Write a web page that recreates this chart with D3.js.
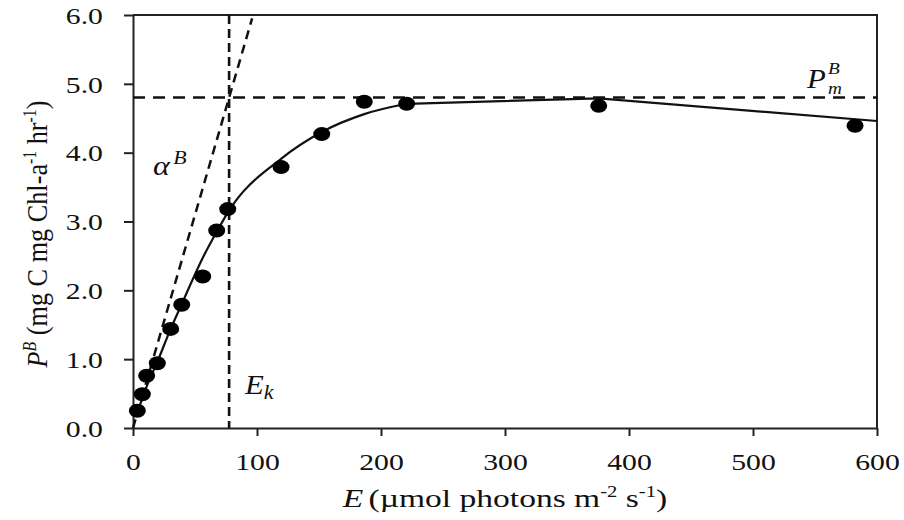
<!DOCTYPE html>
<html>
<head>
<meta charset="utf-8">
<script src="https://cdn.jsdelivr.net/npm/d3@7"></script>
<style>
  html, body { margin: 0; padding: 0; background: #fff; }
  svg { display: block; font-family: "Liberation Serif", "Times New Roman", serif; }
</style>
</head>
<body>
<svg id="chart" width="904" height="520"></svg>
<script>
// Measured photosynthesis–irradiance points
const irradiance = [3.5, 7.5, 11.0, 19.6, 30.4, 39.3, 56.2, 67.5, 76.4, 119.4, 152.2, 186.5, 220.7, 375.6, 582.3];
const production = [0.25, 0.49, 0.76, 0.94, 1.44, 1.79, 2.20, 2.87, 3.18, 3.79, 4.27, 4.74, 4.71, 4.68, 4.39];

// Fitted P–E curve: smooth rising part, then straight segments at high light
const fitIrradiance = [3.5, 7.5, 11.0, 19.6, 30.4, 39.3, 56.2, 67.5, 76.4, 119.4, 152.2, 186.5, 220.7];
const fitProduction = [0.22, 0.43, 0.60, 0.96, 1.44, 1.80, 2.47, 2.85, 3.13, 3.91, 4.30, 4.56, 4.71];
const tailIrradiance = [220.7, 375.6, 600];
const tailProduction = [4.71, 4.79, 4.46];

// Photosynthetic parameters shown as reference lines
const maxRate = 4.8;          // P_m^B
const saturationLight = 77.5; // E_k
const slopeLineTop = 5.95;    // where the initial-slope line stops

const xTicks = [0, 100, 200, 300, 400, 500, 600];
const yTicks = [0, 1, 2, 3, 4, 5, 6];

const svg = d3.select("#chart");
const plot = { left: 133, right: 877, top: 15, bottom: 428 };
const ink = "#111";
const axisInk = "#222";
const SX = 1.24; // horizontal glyph stretch of the typeset text

const x = d3.scaleLinear().domain([0, 600]).range([plot.left, plot.right]);
const y = d3.scaleLinear().domain([0, 6]).range([plot.bottom, plot.top]);

// ---- frame and axes ----
const xAxis = svg.append("g")
  .attr("transform", `translate(0,${plot.bottom})`)
  .call(d3.axisBottom(x).tickValues(xTicks).tickSize(8).tickSizeOuter(0).tickFormat(d3.format("d")));
const yAxis = svg.append("g")
  .attr("transform", `translate(${plot.left},0)`)
  .call(d3.axisLeft(y).tickValues(yTicks).tickSize(9).tickSizeOuter(0).tickFormat(d3.format(".1f")));

[xAxis, yAxis].forEach(a => {
  a.select(".domain").attr("stroke", axisInk).attr("stroke-width", 2);
  a.selectAll(".tick line").attr("stroke", axisInk).attr("stroke-width", 2);
  a.selectAll(".tick text")
    .attr("fill", ink)
    .attr("font-size", 24)
    .attr("font-family", "Liberation Serif, serif");
});
xAxis.selectAll(".tick text")
  .attr("y", 42).attr("dy", 0)
  .attr("transform", `scale(${SX},1)`);
yAxis.selectAll(".tick text")
  .attr("x", -30 / SX).attr("dy", "0.34em")
  .attr("transform", `scale(${SX},1)`);

// top and right border
svg.append("path")
  .attr("d", d3.line()([[x(0), y(6)], [x(600), y(6)], [x(600), y(0)]]))
  .attr("fill", "none").attr("stroke", axisInk).attr("stroke-width", 2);

// ---- reference lines ----
svg.append("line")
  .attr("x1", x(0)).attr("x2", x(600))
  .attr("y1", y(maxRate)).attr("y2", y(maxRate))
  .attr("stroke", ink).attr("stroke-width", 2.5).attr("stroke-dasharray", "12 8");

svg.append("line")
  .attr("x1", x(saturationLight)).attr("x2", x(saturationLight))
  .attr("y1", y(6)).attr("y2", y(0))
  .attr("stroke", ink).attr("stroke-width", 2.6).attr("stroke-dasharray", "9 5");

svg.append("line")
  .attr("x1", x(0)).attr("y1", y(0))
  .attr("x2", x(slopeLineTop * saturationLight / maxRate)).attr("y2", y(slopeLineTop))
  .attr("stroke", ink).attr("stroke-width", 2.5).attr("stroke-dasharray", "9 6");

// ---- fitted curve ----
const fitPts = fitIrradiance.map((e, i) => [x(e), y(fitProduction[i])]);
svg.append("path")
  .attr("d", d3.line().curve(d3.curveMonotoneX)(fitPts))
  .attr("fill", "none").attr("stroke", ink).attr("stroke-width", 2.2);
const tailPts = tailIrradiance.map((e, i) => [x(e), y(tailProduction[i])]);
svg.append("path")
  .attr("d", d3.line()(tailPts))
  .attr("fill", "none").attr("stroke", ink).attr("stroke-width", 2.2);

// ---- measured points ----
svg.append("g").selectAll("ellipse")
  .data(irradiance.map((e, i) => ({ e, p: production[i] })))
  .join("ellipse")
  .attr("cx", d => x(d.e)).attr("cy", d => y(d.p))
  .attr("rx", 8.5).attr("ry", 7)
  .attr("fill", "#000");

// ---- text helpers ----
function placed(px, py, sx, sy = 1, rot = 0) {
  return svg.append("g")
    .attr("transform", `translate(${px},${py}) rotate(${rot}) scale(${sx},${sy})`)
    .append("text").attr("fill", ink);
}

// y-axis title
const yt = placed(47, 234, 1.05, 1.2, -90).attr("text-anchor", "middle").attr("font-size", 25);
yt.append("tspan").attr("font-style", "italic").text("P");
yt.append("tspan").attr("font-style", "italic").attr("font-size", 15).attr("dy", -9).text("B");
yt.append("tspan").attr("dy", 9).text(" (mg C mg Chl-a");
yt.append("tspan").attr("font-size", 15).attr("dy", -9).text("-1");
yt.append("tspan").attr("dy", 9).text(" hr");
yt.append("tspan").attr("font-size", 15).attr("dy", -9).text("-1");
yt.append("tspan").attr("dy", 9).text(")");

// x-axis title
const xt = placed(505, 507, 1.29).attr("text-anchor", "middle").attr("font-size", 26);
xt.append("tspan").attr("font-style", "italic").text("E");
xt.append("tspan").attr("dx", 4).text("(µmol photons m");
xt.append("tspan").attr("font-size", 16).attr("dy", -10).text("-2");
xt.append("tspan").attr("dy", 10).text(" s");
xt.append("tspan").attr("font-size", 16).attr("dy", -10).text("-1");
xt.append("tspan").attr("dy", 10).text(")");

// annotations
const a = placed(153, 175, 1.15).attr("font-size", 28).attr("font-style", "italic");
a.append("tspan").text("α");
a.append("tspan").attr("font-size", 19).attr("dy", -11).attr("dx", 3).text("B");

const ek = placed(245, 394, 1.1).attr("font-size", 28).attr("font-style", "italic");
ek.append("tspan").text("E");
ek.append("tspan").attr("font-size", 20).attr("dy", 5).text("k");

// maximum rate: P with stacked superscript B and subscript m
placed(807, 88, 1.1).attr("font-size", 28).attr("font-style", "italic").text("P");
placed(828, 74, 1.1).attr("font-size", 17.5).attr("font-style", "italic").text("B");
placed(828, 94, 1.1).attr("font-size", 17.5).attr("font-style", "italic").text("m");
</script>
</body>
</html>
